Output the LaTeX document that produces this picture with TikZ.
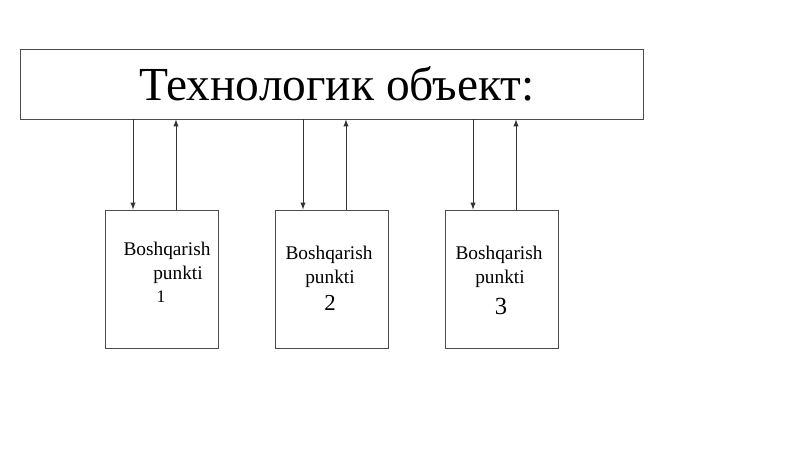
\documentclass[tikz,border=0pt]{standalone}
\usepackage{fontspec}
\setmainfont{Liberation Serif}
\usetikzlibrary{arrows,shapes}
\newcommand{\boxw}{2.26cm}
\newcommand{\boxh}{2.76cm}
\begin{document}
\begin{tikzpicture}[x=0.02cm,y=-0.02cm,
    panel/.style={draw=black!70, line width=0.5pt, minimum width=\boxw, minimum height=\boxh, inner sep=0pt},
    link/.style={-latex, line width=0.4pt, black!80},
    lbl/.style={font=\fontsize{11}{13}\selectfont}]
            \useasboundingbox (0,0) rectangle (800,449);
            \node[draw=black!70, line width=0.5pt, minimum width=12.46cm, minimum height=1.4cm, inner sep=0pt] (obj) at (331.5,84) {};
            \node[font=\fontsize{27}{30}\selectfont] (title) at (337,84) {Технологик объект:};
            
            \node[panel] (p1) at (161.5,279) {};
            \node[panel] (p2) at (331.5,279) {};
            \node[panel] (p3) at (501.5,279) {};
            
            \node[lbl] (t1) at (167,251) {Boshqarish};
            \node[lbl] (u1) at (178,275) {punkti};
            \node[font=\fontsize{10}{12}\selectfont] (n1) at (161,297) {1};
            \node[lbl] (t2) at (329,255) {Boshqarish};
            \node[lbl] (u2) at (330,279) {punkti};
            \node[font=\fontsize{13}{15}\selectfont] (n2) at (330,303) {2};
            \node[lbl] (t3) at (499,255) {Boshqarish};
            \node[lbl] (u3) at (500,279) {punkti};
            \node[font=\fontsize{14}{16}\selectfont] (n3) at (501,306) {3};
            
            \coordinate (d1) at (133,0);
            \coordinate (r1) at (176,0);
            \coordinate (d2) at (303,0);
            \coordinate (r2) at (346,0);
            \coordinate (d3) at (473,0);
            \coordinate (r3) at (516,0);
            
            \draw[link] (obj.south -| d1) -- (p1.north -| d1);
            \draw[link] (p1.north -| r1) -- (obj.south -| r1);
            \draw[link] (obj.south -| d2) -- (p2.north -| d2);
            \draw[link] (p2.north -| r2) -- (obj.south -| r2);
            \draw[link] (obj.south -| d3) -- (p3.north -| d3);
            \draw[link] (p3.north -| r3) -- (obj.south -| r3);
        \end{tikzpicture}
\end{document}
